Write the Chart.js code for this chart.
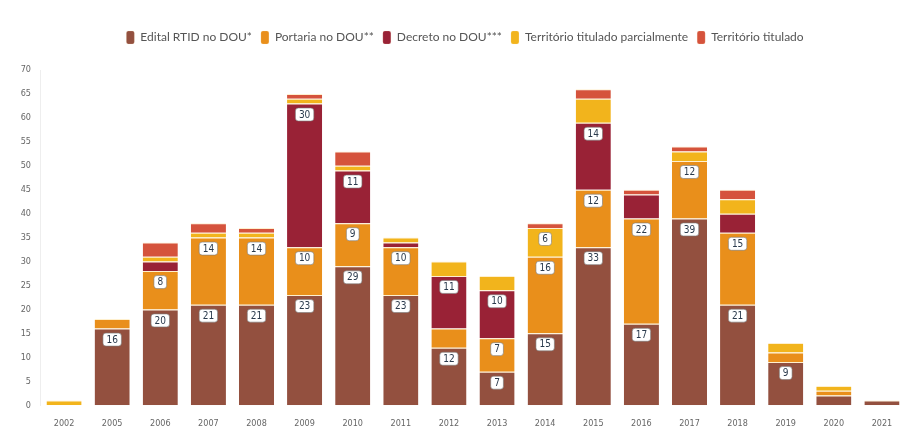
<!DOCTYPE html>
<html>
<head>
<meta charset="utf-8">
<script src="https://cdn.jsdelivr.net/npm/chart.js@4/dist/chart.umd.min.js"></script>
<style>
  html, body { margin: 0; padding: 0; background: #ffffff; }
  #wrap { width: 924px; height: 442px; }
</style>
</head>
<body>
<div id="wrap"><canvas id="c" width="924" height="442"></canvas></div>
<script>
// Years on the x axis
const years = ['2002','2005','2006','2007','2008','2009','2010','2011','2012','2013','2014','2015','2016','2017','2018','2019','2020','2021'];

// Stacked series (bottom to top)
const editalRTID   = [0, 16, 20, 21, 21, 23, 29, 23, 12, 7, 15, 33, 17, 39, 21, 9, 2, 1];
const portaria     = [0,  2,  8, 14, 14, 10,  9, 10,  4, 7, 16, 12, 22, 12, 15, 2, 1, 0];
const decreto      = [0,  0,  2,  0,  0, 30, 11,  1, 11, 10, 0, 14,  5,  0,  4, 0, 0, 0];
const parcial      = [1,  0,  1,  1,  1,  1,  1,  1,  3,  3, 6,  5,  0,  2,  3, 2, 1, 0];
const titulado     = [0,  0,  3,  2,  1,  1,  3,  0,  0,  0, 1,  2,  1,  1,  2, 0, 0, 0];

// Y axis ticks
const yTicks = [0, 5, 10, 15, 20, 25, 30, 35, 40, 45, 50, 55, 60, 65, 70];

const seriesNames = ['Edital RTID no DOU*', 'Portaria no DOU**', 'Decreto no DOU***', 'Território titulado parcialmente', 'Território titulado'];
const seriesColors = ['#93503f', '#e98f1b', '#992236', '#f2b41c', '#d5533c'];
const seriesData = [editalRTID, portaria, decreto, parcial, titulado];

// Small white value tags near the top of larger segments
const valueTags = {
  id: 'valueTags',
  afterDatasetsDraw(chart) {
    const ctx = chart.ctx;
    ctx.save();
    ctx.font = '10px "DejaVu Sans Condensed", "Liberation Sans Narrow", sans-serif';
    ctx.textAlign = 'center';
    ctx.textBaseline = 'middle';
    chart.data.datasets.forEach((ds, di) => {
      const meta = chart.getDatasetMeta(di);
      meta.data.forEach((bar, i) => {
        const v = ds.data[i];
        if (v < 6) return;
        const txt = String(v);
        const w = ctx.measureText(txt).width + 7;
        const h = 13;
        const cx = bar.x;
        const cy = bar.y + 11;
        ctx.beginPath();
        ctx.roundRect(cx - w / 2, cy - h / 2, w, h, 3);
        ctx.fillStyle = '#ffffff';
        ctx.fill();
        ctx.lineWidth = 1;
        ctx.strokeStyle = 'rgba(120,120,120,0.6)';
        ctx.stroke();
        ctx.fillStyle = '#2a3a4c';
        ctx.fillText(txt, cx, cy + 0.5);
      });
    });
    ctx.restore();
  }
};

// Legend spacing: extra gap below it and a slight shift to the right
const legendGap = {
  id: 'legendGap',
  beforeInit(chart) {
    const legend = chart.legend;
    const fit = legend.fit;
    legend.fit = function () {
      fit.call(this);
      this.height += 16;
    };
    const draw = legend.draw;
    legend.draw = function () {
      const ctx = this.ctx;
      ctx.save();
      ctx.translate(12, 0);
      draw.call(this);
      ctx.restore();
    };
  }
};

new Chart(document.getElementById('c'), {
  type: 'bar',
  data: {
    labels: years,
    datasets: seriesNames.map((name, k) => ({
      label: name,
      data: seriesData[k],
      backgroundColor: seriesColors[k],
      borderColor: 'rgba(255,235,190,0.75)',
      borderWidth: { top: 1, bottom: 0, left: 0, right: 0 },
      borderSkipped: false,
      categoryPercentage: 1.0,
      barPercentage: 0.73
    }))
  },
  options: {
    responsive: false,
    animation: false,
    devicePixelRatio: 1,
    layout: { padding: { left: 0, right: 18, top: 22, bottom: 0 } },
    plugins: {
      tooltip: { enabled: false },
      legend: {
        position: 'top',
        align: 'center',
        labels: {
          boxWidth: 8,
          boxHeight: 13,
          useBorderRadius: true,
          borderRadius: 2,
          padding: 9,
          color: '#555555',
          font: { family: 'Lato, "Open Sans", sans-serif', size: 12 }
        }
      }
    },
    scales: {
      x: {
        stacked: true,
        grid: { display: false, drawTicks: false },
        border: { display: false },
        ticks: {
          color: '#666666',
          padding: 13,
          font: { family: '"DejaVu Sans Condensed", sans-serif', size: 9 },
          maxRotation: 0,
          autoSkip: false
        }
      },
      y: {
        stacked: true,
        min: 0,
        max: 70,
        afterBuildTicks(scale) {
          scale.ticks = yTicks.map(v => ({ value: v }));
        },
        afterFit(scale) { scale.width = 40; },
        grid: { display: false, drawTicks: false },
        border: { display: true, color: '#eeeeee' },
        ticks: {
          color: '#666666',
          padding: 9,
          font: { family: '"DejaVu Sans Condensed", sans-serif', size: 9 }
        }
      }
    }
  },
  plugins: [valueTags, legendGap]
});
</script>
</body>
</html>
